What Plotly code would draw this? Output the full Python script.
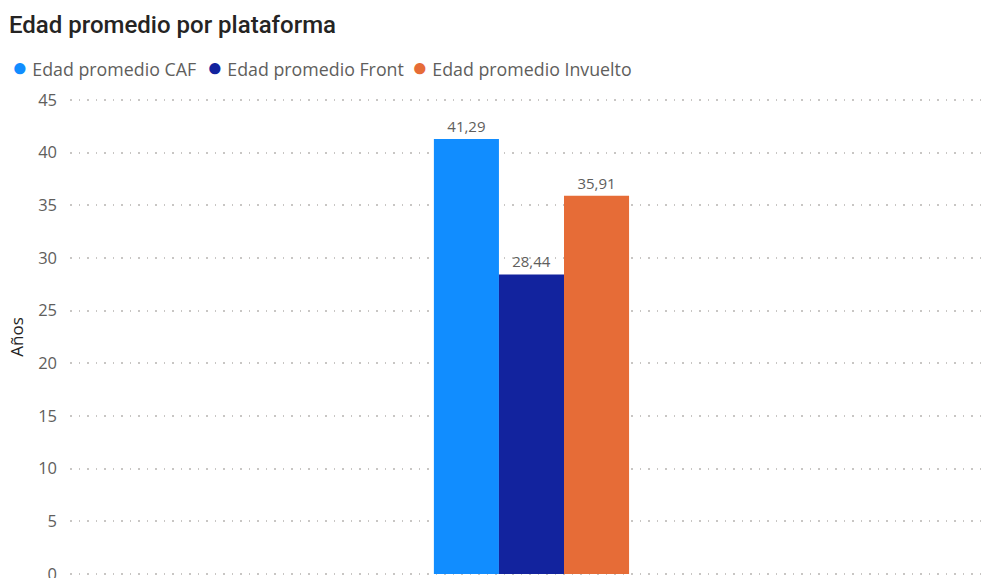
import plotly.graph_objects as go

# Average age per platform (years)
categories = ["Plataforma"]
series_names = ["Edad promedio CAF", "Edad promedio Front", "Edad promedio Invuelto"]
series_values = [[41.29], [28.44], [35.91]]
series_colors = ["#118DFF", "#12239E", "#E66C37"]
y_ticks = [0, 5, 10, 15, 20, 25, 30, 35, 40, 45]

FONT = "Segoe UI, Open Sans, sans-serif"
W, H = 985, 578
M_L, M_R, M_T, M_B = 70, 3, 99, 3
PLOT_W = W - M_L - M_R

fig = go.Figure()

for name, vals, color in zip(series_names, series_values, series_colors):
    fig.add_trace(go.Bar(
        x=categories, y=vals, name=name,
        marker=dict(color=color, line=dict(width=0)),
        texttemplate="%{y:.2f}", textposition="outside",
        textfont=dict(family=FONT, size=15, color="#605E5C"),
        cliponaxis=False, showlegend=False,
    ))

# Compact legend row across the top: coloured dot followed by the series name
legend_left_px = [10, 205, 410]
for name, color, px in zip(series_names, series_colors, legend_left_px):
    fig.add_annotation(
        xref="paper", yref="paper",
        x=(px - M_L) / PLOT_W, xanchor="left",
        y=1 + (M_T - 66) / (H - M_T - M_B), yanchor="middle",
        text=f'<span style="color:{color};font-size:26px">●</span> {name}',
        showarrow=False, align="left",
        font=dict(family=FONT, size=17.8, color="#605E5C"),
    )

fig.update_layout(
    width=W, height=H,
    separators=",.",
    paper_bgcolor="white", plot_bgcolor="white",
    margin=dict(l=M_L, r=M_R, t=M_T, b=M_B, autoexpand=False),
    barmode="group", bargap=0.786, bargroupgap=0,
    showlegend=False,
    font=dict(family=FONT, color="#605E5C"),
    title=dict(
        text="Edad promedio por plataforma",
        x=9 / W, xref="container", xanchor="left",
        y=1 - 25 / H, yref="container", yanchor="middle",
        font=dict(family="Roboto, sans-serif", size=24, weight=500, color="#252423"),
    ),
    xaxis=dict(showticklabels=False, showgrid=False, zeroline=False,
               showline=False, fixedrange=True, range=[-0.506, 0.494],
               automargin=False),
    yaxis=dict(
        range=[-0.1, 45.1], tickvals=y_ticks, showline=False, zeroline=False,
        showgrid=True, gridcolor="#C8C6C4", gridwidth=1.5, griddash="1.5px,7px",
        tickfont=dict(family=FONT, size=16.5, color="#605E5C"),
        ticklabelstandoff=12, ticklabeloverflow="allow", automargin=False,
        title=dict(text="Años", font=dict(family=FONT, size=17, color="#252423"),
                   standoff=10),
    ),
)

fig.write_html("out.html")
